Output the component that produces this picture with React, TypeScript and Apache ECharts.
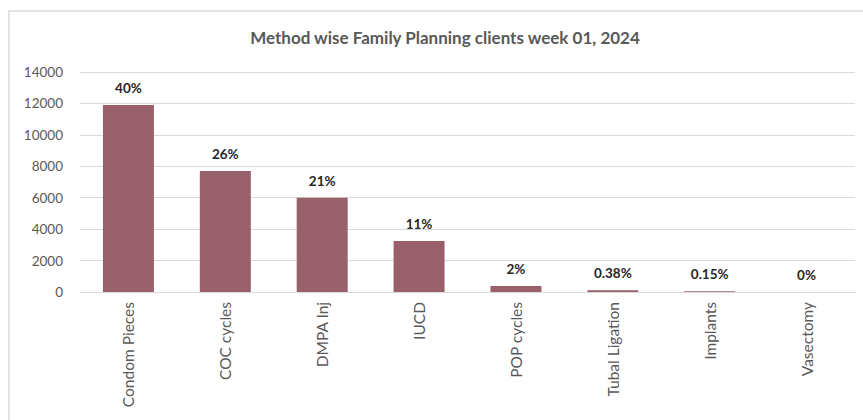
import React, { useEffect, useRef } from "react";
import * as echarts from "echarts";

const categories = ["Condom Pieces", "COC cycles", "DMPA Inj", "IUCD", "POP cycles", "Tubal Ligation", "Implants", "Vasectomy"];
const clients = [11900, 7700, 6000, 3250, 380, 111, 44, 0];
const percentLabels = ["40%", "26%", "21%", "11%", "2%", "0.38%", "0.15%", "0%"];
const yTicks = { min: 0, max: 14000, interval: 2000 };
const title = "Method wise Family Planning clients week 01, 2024";

const FONT = "Lato, 'Open Sans', sans-serif";

export default function App() {
  const ref = useRef<HTMLDivElement>(null);
  useEffect(() => {
    if (!ref.current) return;
    const chart = echarts.init(ref.current, undefined, { renderer: "svg" });
    chart.setOption({
      animation: false,
      backgroundColor: "#ffffff",
      title: {
        text: title,
        left: 440,
        textAlign: "center",
        top: 24,
        textStyle: { fontFamily: FONT, fontSize: 17, fontWeight: "bold", color: "#595959" },
      },
      graphic: [
        { type: "line", shape: { x1: 8.5, y1: 11, x2: 863, y2: 11 }, style: { stroke: "#e3e3e3", lineWidth: 2 } },
        { type: "line", shape: { x1: 9, y1: 10, x2: 9, y2: 420 }, style: { stroke: "#e3e3e3", lineWidth: 2 } },
      ],
      grid: { left: 80, right: 8, top: 72, bottom: 128 },
      xAxis: {
        type: "category",
        data: categories,
        axisLine: { lineStyle: { color: "#d9d9d9" } },
        axisTick: { show: false },
        axisLabel: { rotate: 90, margin: 10, fontFamily: FONT, fontSize: 15.5, color: "#595959" },
      },
      yAxis: {
        type: "value",
        min: yTicks.min,
        max: yTicks.max,
        interval: yTicks.interval,
        axisLine: { show: false },
        axisTick: { show: false },
        splitLine: { lineStyle: { color: "#d9d9d9" } },
        axisLabel: {
          margin: 17,
          fontFamily: FONT,
          fontSize: 13.5,
          color: "#595959",
          formatter: (v: number) => String(v),
        },
      },
      series: [
        {
          type: "bar",
          data: clients,
          barWidth: 51,
          itemStyle: { color: "#98606a" },
          label: {
            show: true,
            position: "top",
            distance: 10,
            formatter: (p: any) => percentLabels[p.dataIndex],
            fontFamily: FONT,
            fontSize: 13.5,
            fontWeight: "bold",
            color: "#262626",
          },
        },
      ],
    });
    return () => chart.dispose();
  }, []);
  return <div ref={ref} style={{ position: "fixed", left: 0, top: 0, width: 863, height: 420 }} />;
}
